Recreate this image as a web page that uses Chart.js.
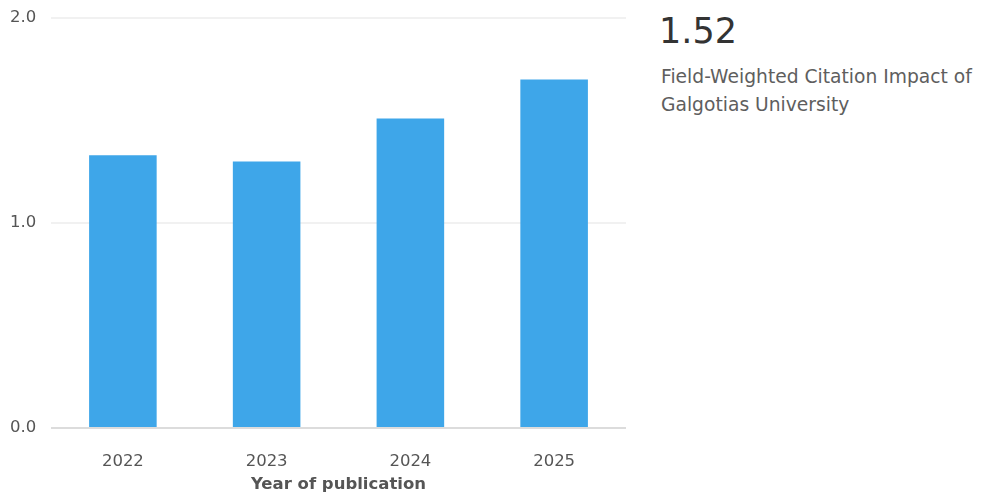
<!DOCTYPE html>
<html>
<head>
<meta charset="utf-8">
<script src="https://cdn.jsdelivr.net/npm/chart.js@4.4.1/dist/chart.umd.min.js"></script>
<style>
  html, body { margin: 0; padding: 0; background: #fff; }
  #wrap { position: relative; width: 983px; height: 495px; }
  #chartBox { position: absolute; left: 0; top: 0; width: 640px; height: 495px; }
  .side { position: absolute; font-family: "DejaVu Sans", sans-serif; white-space: nowrap; }
  #big { left: 659px; top: 11px; font-size: 35px; line-height: 40px; color: #333; }
  #l1 { left: 661px; top: 63px; font-size: 18.7px; line-height: 28px; color: #5e5e5e; }
  #l2 { left: 661px; top: 91px; font-size: 18.7px; line-height: 28px; color: #5e5e5e; }
</style>
</head>
<body>
<div id="wrap">
  <div id="chartBox"><canvas id="c"></canvas></div>
  <div class="side" id="big">1.52</div>
  <div class="side" id="l1">Field-Weighted Citation Impact of</div>
  <div class="side" id="l2">Galgotias University</div>
</div>
<script>
const categories = ["2022", "2023", "2024", "2025"];
const fwciValues = [1.33, 1.30, 1.51, 1.70];
const yTicks = [0, 1, 2];
const xTitle = "Year of publication";

const FONT = '"DejaVu Sans", sans-serif';

new Chart(document.getElementById('c'), {
  type: 'bar',
  data: {
    labels: categories,
    datasets: [{
      data: fwciValues,
      backgroundColor: '#3ea6e9',
      borderWidth: 0,
      barPercentage: 0.47,
      categoryPercentage: 1.0
    }]
  },
  options: {
    responsive: true,
    maintainAspectRatio: false,
    animation: false,
    layout: { padding: { top: 18, right: 14, left: 10, bottom: 0 } },
    plugins: { legend: { display: false }, tooltip: { enabled: false } },
    scales: {
      x: {
        grid: { display: false, drawTicks: false },
        border: { display: false },
        ticks: { color: '#555', font: { family: FONT, size: 16.5 }, padding: 24 },
        title: { display: true, text: xTitle, color: '#555', font: { family: FONT, size: 16.5, weight: 'bold' }, padding: { top: 0, bottom: 0 } },
        afterFit: (s) => { s.height = 67; }
      },
      y: {
        min: 0, max: 2,
        afterBuildTicks: (s) => { s.ticks = yTicks.map(v => ({ value: v })); },
        grid: {
          drawTicks: false,
          color: (ctx) => ctx.tick && ctx.tick.value === 0 ? '#dcdcdc' : '#f1f1f1',
          lineWidth: 2
        },
        border: { display: false },
        ticks: {
          color: '#555',
          font: { family: FONT, size: 16.5 },
          crossAlign: 'far',
          padding: 8,
          callback: (v) => Number(v).toFixed(1)
        },
        afterFit: (s) => { s.width = 41; }
      }
    }
  }
});
</script>
</body>
</html>
